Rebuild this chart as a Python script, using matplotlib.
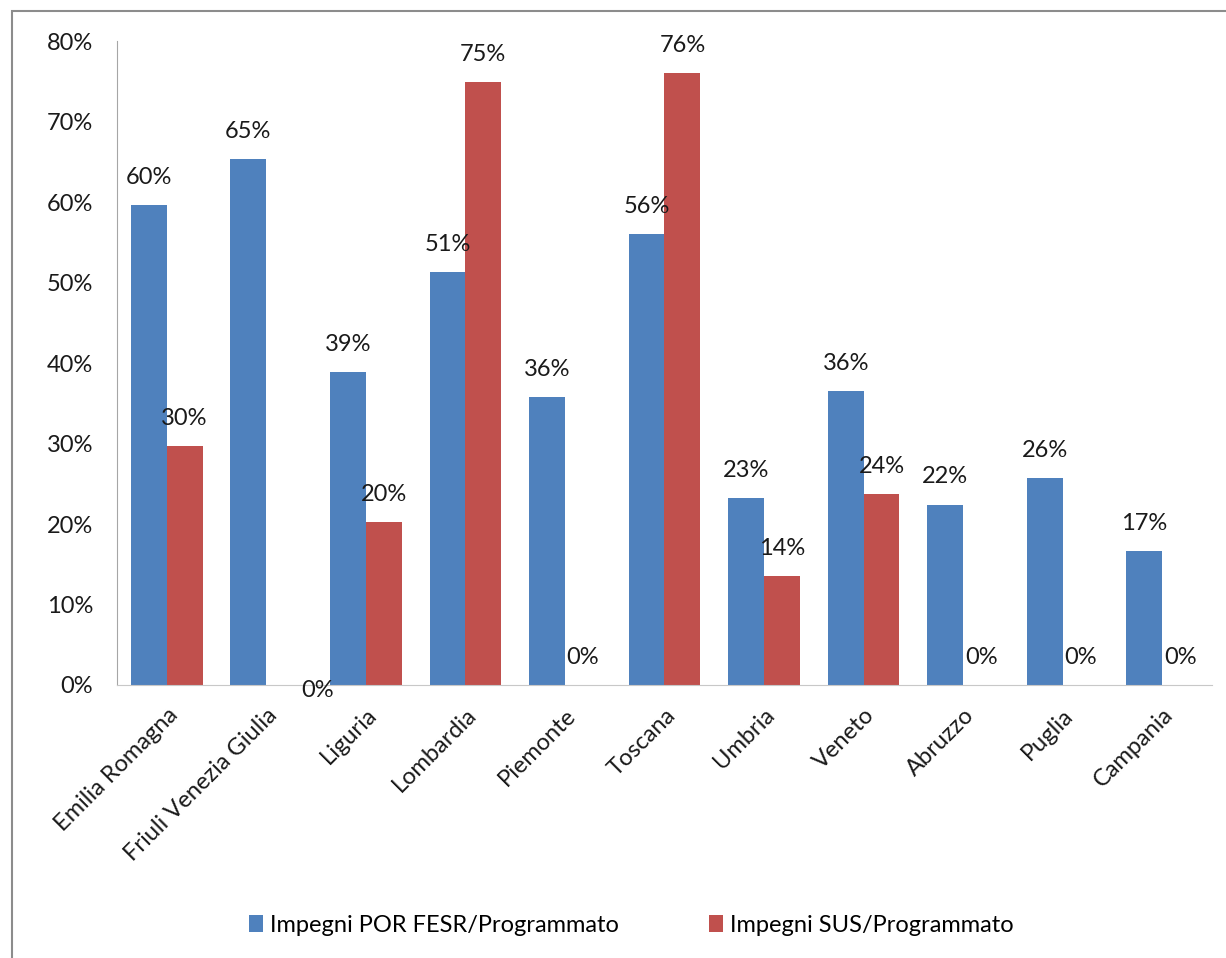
import numpy as np
import matplotlib
matplotlib.use("Agg")
import matplotlib.pyplot as plt
from matplotlib.patches import Rectangle

plt.rcParams['font.family'] = ['Lato', 'DejaVu Sans']

regioni = ['Emilia Romagna', 'Friuli Venezia Giulia', 'Liguria', 'Lombardia',
           'Piemonte', 'Toscana', 'Umbria', 'Veneto', 'Abruzzo', 'Puglia', 'Campania']
por_fesr = [59.6, 65.3, 38.9, 51.3, 35.8, 56.0, 23.2, 36.5, 22.4, 25.7, 16.6]
sus = [29.7, 0, 20.2, 74.9, 0, 76.0, 13.5, 23.7, 0, 0, 0]
serie = ['Impegni POR FESR/Programmato', 'Impegni SUS/Programmato']

blu = '#4F81BD'
rosso = '#C0504D'
testo = '#1a1a1a'

fig = plt.figure(figsize=(12.26, 9.58), dpi=100)
ax = fig.add_axes([0.0954, 0.285, 0.8932, 0.672])

x = np.arange(len(regioni))
w = 0.36
b1 = ax.bar(x - w/2, por_fesr, w, color=blu, label=serie[0])
b2 = ax.bar(x + w/2, sus, w, color=rosso, label=serie[1])

fs = 17
for bars, vals in ((b1, por_fesr), (b2, sus)):
    for i, (r, v) in enumerate(zip(bars, vals)):
        cx = r.get_x() + r.get_width()/2
        dx, dy = 0, 20
        if v == 0 and regioni[i] == 'Friuli Venezia Giulia':
            dx, dy = 24, -4
        ax.annotate('%d%%' % round(v), (cx, v), xytext=(dx, dy),
                    textcoords='offset points', ha='center', va='center',
                    fontsize=fs, color=testo, zorder=5)

ax.set_xlim(-0.5, len(regioni) - 0.5)
ax.set_ylim(0, 80)
ax.set_yticks(range(0, 81, 10))
ax.set_yticklabels(['%d%%' % t for t in range(0, 81, 10)])
ax.set_xticks(x)
ax.set_xticklabels(regioni, rotation=45, ha='right', rotation_mode='anchor')
ax.tick_params(axis='y', length=0, pad=17, labelsize=fs, labelcolor=testo)
ax.tick_params(axis='x', length=0, pad=14, labelsize=fs, labelcolor=testo)

for s in ('top', 'right'):
    ax.spines[s].set_visible(False)
ax.spines['left'].set_color('#A6A6A6')
ax.spines['bottom'].set_color('#C8C8C8')

fig.legend(handles=[b1, b2], loc='center', bbox_to_anchor=(0.515, 0.034),
           ncol=2, frameon=False, fontsize=fs, handlelength=0.6, handleheight=0.7,
           handletextpad=0.3, columnspacing=3.8)

fig.patches.append(Rectangle((12/1226, -0.01), 1.1, 1 - 11/958 + 0.01,
                             transform=fig.transFigure, fill=False,
                             edgecolor='#8C8C8C', linewidth=1.5))

fig.savefig('out.png', dpi=100)
